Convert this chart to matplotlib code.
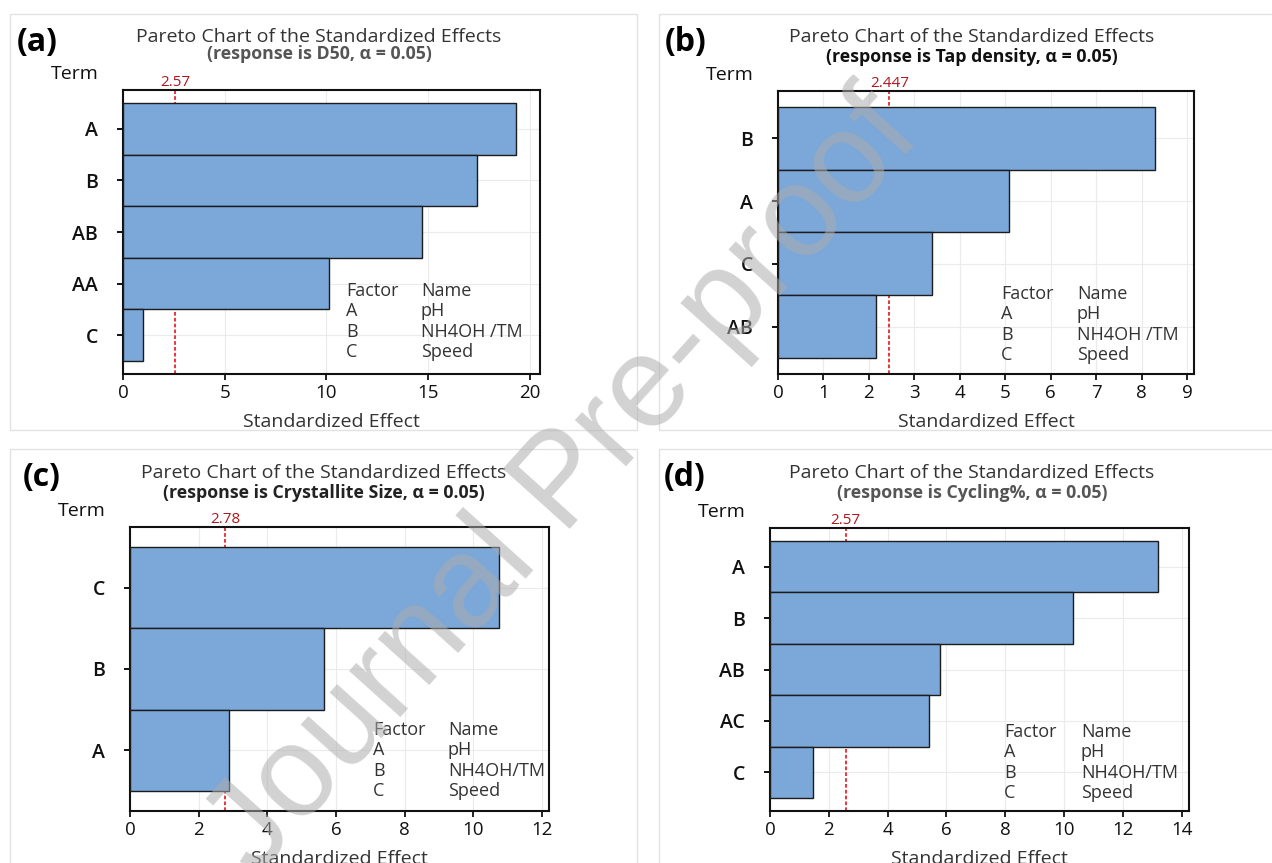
import matplotlib
matplotlib.use('Agg')
import matplotlib.pyplot as plt
from matplotlib.patches import Rectangle

plt.rcParams['font.family'] = ['Open Sans', 'DejaVu Sans']

W, H = 1272, 863

# panel (a): D50
a_terms = ['A', 'B', 'AB', 'AA', 'C']
a_effects = [19.33, 17.42, 14.72, 10.12, 0.99]
a_ref = 2.57
a_ref_label = '2.57'

# panel (b): tap density
b_terms = ['B', 'A', 'C', 'AB']
b_effects = [8.30, 5.08, 3.38, 2.15]
b_ref = 2.447
b_ref_label = '2.447'

# panel (c): crystallite size
c_terms = ['C', 'B', 'A']
c_effects = [10.73, 5.66, 2.89]
c_ref = 2.78
c_ref_label = '2.78'

# panel (d): cycling
d_terms = ['A', 'B', 'AB', 'AC', 'C']
d_effects = [13.21, 10.32, 5.79, 5.42, 1.45]
d_ref = 2.57
d_ref_label = '2.57'

factor_codes = ['A', 'B', 'C']
factor_names_ab = ['pH', 'NH4OH /TM', 'Speed']
factor_names_cd = ['pH', 'NH4OH/TM', 'Speed']

responses = ['D50', 'Tap density', 'Crystallite Size', 'Cycling%']

BAR = '#7ba7d9'
TXT = '#333333'


def fx(x):
    return x / W


def fy(y):
    return 1 - y / H


def pareto(fig, box, terms, effects, ref, ref_label, xmax, xticks,
           letter, letter_xy, title_xy, response, sub_y, sub_color,
           legend_xy, names):
    l, t, r, b = box
    ax = fig.add_axes([fx(l), fy(b), (r - l) / W, (b - t) / H])
    n = len(terms)
    ypos = [n - 1 - i for i in range(n)]
    ax.barh(ypos, effects, height=1.0, color=BAR, edgecolor='#1c1c1c',
            linewidth=1.0, zorder=3)
    ax.axvline(ref, color='#e3141b', ls=(0, (2.2, 1.3)), lw=1.2, zorder=2)
    ax.annotate(ref_label, xy=(ref, 1), xycoords=('data', 'axes fraction'),
                xytext=(0, 0.3), textcoords='offset points', ha='center',
                va='bottom', color='#b0161c', fontsize=11)
    ax.set_xlim(0, xmax)
    ax.set_ylim(-0.75, n - 0.25)
    ax.set_xticks(xticks)
    ax.set_yticks(ypos)
    ax.set_yticklabels(terms, fontsize=14, fontweight='semibold',
                       color='#111111')
    ax.tick_params(axis='x', labelsize=13.5, length=4, width=1.3, pad=3,
                   colors='#111111')
    ax.tick_params(axis='y', length=4, width=1.3, pad=14)
    ax.grid(True, color='#ebebeb', lw=0.8, zorder=0)
    ax.set_axisbelow(True)
    for s in ax.spines.values():
        s.set_linewidth(1.5)
        s.set_color('#111111')
    ax.set_xlabel('Standardized Effect', fontsize=14, color=TXT, labelpad=8)

    # panel letter, term header and titles
    fig.text(fx(letter_xy[0]), fy(letter_xy[1]), letter, fontsize=23,
             fontweight='bold', color='black', va='center', ha='left')
    fig.text(fx(l - 24), fy(t - 16), 'Term', fontsize=14, color='#111111',
             ha='right', va='center')
    fig.text(fx(title_xy[0]), fy(title_xy[1]),
             'Pareto Chart of the Standardized Effects', fontsize=14,
             color=TXT, ha='center', va='center')
    fig.text(fx(title_xy[0]), fy(sub_y),
             '(response is %s, \u03b1 = 0.05)' % response, fontsize=12.8,
             fontweight='bold', color=sub_color, ha='center', va='center')

    # factor key inside the plot
    lx, nx, ly = legend_xy
    rows = [('Factor', 'Name')] + list(zip(factor_codes, names))
    for k, (code, name) in enumerate(rows):
        yy = ly + 20.3 * k
        fig.text(fx(lx), fy(yy), code, fontsize=13, color=TXT, va='center')
        fig.text(fx(nx), fy(yy), name, fontsize=13, color=TXT, va='center')
    return ax


fig = plt.figure(figsize=(W / 100, H / 100), dpi=100)

# light frames around the four panels
for (x0, y0, x1, y1) in [(10, 14, 637, 430), (659, 14, 1300, 430),
                         (10, 449, 637, 900), (659, 449, 1300, 900)]:
    fig.add_artist(Rectangle((fx(x0), fy(y1)), (x1 - x0) / W, (y1 - y0) / H,
                             transform=fig.transFigure, fill=False,
                             edgecolor='#e2e2e2', lw=1.0))

pareto(fig, (123, 90, 540, 374), a_terms, a_effects, a_ref, a_ref_label,
       20.5, [0, 5, 10, 15, 20], '(a)', (17, 42), (319, 37), responses[0],
       54, '#555555', (346, 421, 291), factor_names_ab)
pareto(fig, (778, 91, 1194, 374), b_terms, b_effects, b_ref, b_ref_label,
       9.15, list(range(10)), '(b)', (665, 43), (972, 37), responses[1],
       57, '#111111', (1001, 1077, 294), factor_names_ab)
pareto(fig, (130, 527, 549, 811), c_terms, c_effects, c_ref, c_ref_label,
       12.2, [0, 2, 4, 6, 8, 10, 12], '(c)', (23, 477), (324, 473),
       responses[2], 493, '#222222', (373, 448, 730), factor_names_cd)
pareto(fig, (770, 528, 1189, 811), d_terms, d_effects, d_ref, d_ref_label,
       14.25, [0, 2, 4, 6, 8, 10, 12, 14], '(d)', (664, 477), (972, 473),
       responses[3], 493, '#555555', (1004, 1081, 732), factor_names_cd)

# diagonal watermark on top of everything
fig.text(fx(565), fy(485), 'Journal Pre-proof', fontsize=93,
         family=['Liberation Sans', 'DejaVu Sans'], color='#acacac',
         alpha=0.54, rotation=48, ha='center', va='center', zorder=50)

fig.savefig('out.png', dpi=100)
